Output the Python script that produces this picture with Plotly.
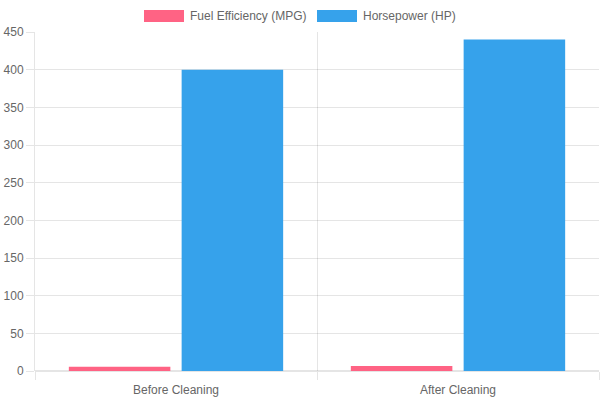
import plotly.graph_objects as go

categories = ["Before Cleaning", "After Cleaning"]
mpg = [5.5, 6.5]
hp = [400, 440]
series_names = ["Fuel Efficiency (MPG)", "Horsepower (HP)"]
colors = ["rgb(255,99,132)", "rgb(54,162,235)"]
grid = "rgba(0,0,0,0.1)"
font = dict(family="Liberation Sans, Arial, sans-serif", size=12, color="#666")

fig = go.Figure()
fig.add_trace(go.Bar(x=categories, y=mpg, name=series_names[0], marker=dict(color=colors[0], line=dict(width=0)), showlegend=False))
fig.add_trace(go.Bar(x=categories, y=hp, name=series_names[1], marker=dict(color=colors[1], line=dict(width=0)), showlegend=False))

fig.update_layout(
    width=600, height=400,
    margin=dict(l=35, r=1, t=32, b=28.5, autoexpand=False),
    paper_bgcolor="white", plot_bgcolor="white",
    barmode="group", bargap=0.2, bargroupgap=0.1,
    font=font,
    xaxis=dict(type="category", range=[-0.5, 1.5], tickson="boundaries", showgrid=True, gridcolor=grid,
               ticks="outside", ticklen=8, tickcolor=grid, showline=False, zeroline=False,
               tickfont=font, automargin=False, ticklabelstandoff=10),
    yaxis=dict(range=[0, 450], dtick=50, showgrid=True, gridcolor=grid, ticks="outside", ticklen=8,
               tickcolor=grid, zeroline=True, zerolinecolor=grid, showline=True, linecolor=grid,
               tickfont=font, automargin=False),
)

# legend drawn Chart.js style
legend_items = [(144, series_names[0], colors[0]), (317, series_names[1], colors[1])]
for x0, name, c in legend_items:
    fig.add_shape(type="rect", xref="paper", yref="paper",
                  x0=(x0 - 35) / 564, x1=(x0 + 40 - 35) / 564,
                  y0=(400 - 28.5 - 22) / 339.5, y1=(400 - 28.5 - 10) / 339.5,
                  fillcolor=c, line=dict(width=0), layer="above")
    fig.add_annotation(xref="paper", yref="paper", x=(x0 + 44 - 35) / 564, y=(400 - 28.5 - 16) / 339.5,
                       text=name, showarrow=False, xanchor="left", yanchor="middle", font=font)

fig.write_html("out.html", config={"displayModeBar": False},
               post_script="document.body.style.margin='0';")
